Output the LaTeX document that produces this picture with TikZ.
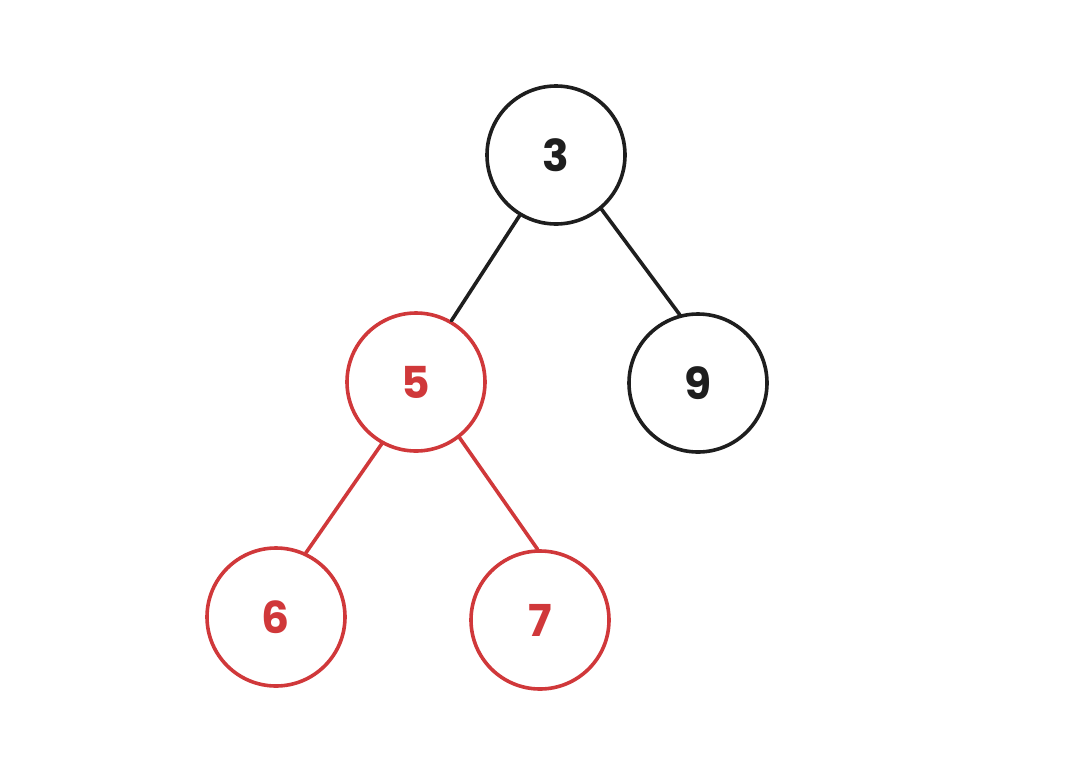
\documentclass[tikz,border=0pt]{standalone}
\usepackage{fontspec}
\setmainfont{Poppins}
\usetikzlibrary{positioning}
\definecolor{Ink}{HTML}{1E1E1E}
\definecolor{Red}{HTML}{D0383A}

\begin{document}
\begin{tikzpicture}[
  x=1pt,y=-1pt,
  nd/.style={circle,draw=Ink,line width=3.6pt,minimum size=138pt,inner sep=0pt,text=Ink,font=\fontsize{44}{48}\selectfont\bfseries},
  hot/.style={nd,draw=Red,text=Red},
  link/.style={line width=3.6pt,draw=Ink,line cap=round},
  hotlink/.style={link,draw=Red}
]
\useasboundingbox (0,0) rectangle (1066,780);
\node[nd] (three) at (556,155) {3};
\node[hot] (five) at (416,382) {5};
\node[nd] (nine) at (698,383) {9};
\node[hot] (six) at (276,617) {6};
\node[hot] (seven) at (540,620) {7};

\draw[link] (three.-121)--(five.60);
\draw[link] (three.-50)--(nine.105);
\draw[hotlink] (five.-119)--(six.65);
\draw[hotlink] (five.-52)--(seven.92);
\end{tikzpicture}
\end{document}
